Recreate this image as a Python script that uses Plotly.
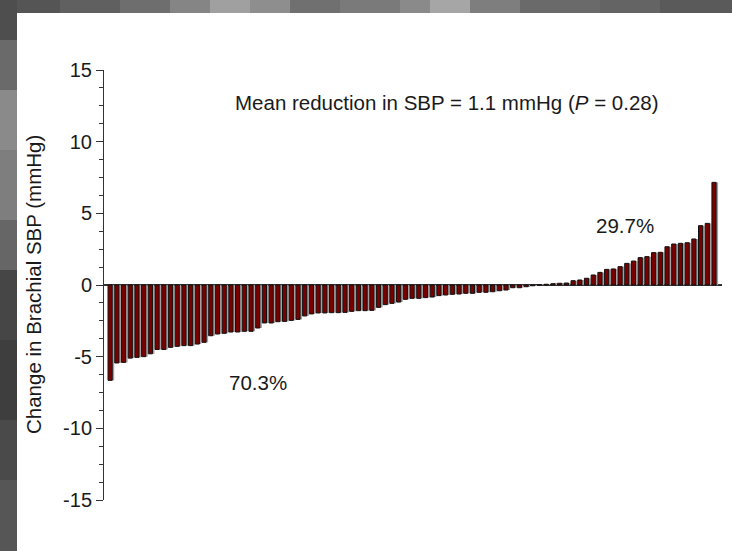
import plotly.graph_objects as go

# ---- data (sorted change in brachial SBP per participant, mmHg) ----
neg_values = [
    -6.65, -5.44, -5.40, -5.10, -5.05, -5.00, -4.80, -4.50, -4.50, -4.35, -4.28, -4.23, -4.23, -4.12, -4.00,
    -3.54, -3.42, -3.37, -3.28, -3.28, -3.23, -3.23, -3.00, -2.65, -2.65, -2.56, -2.54, -2.47, -2.40, -2.16,
    -2.02, -1.95, -1.95, -1.93, -1.93, -1.91, -1.84, -1.79, -1.79, -1.77, -1.56, -1.37, -1.28, -1.19, -1.00,
    -0.93, -0.93, -0.88, -0.84, -0.74, -0.70, -0.65, -0.63, -0.58, -0.58, -0.51, -0.51, -0.47, -0.40, -0.35,
    -0.19, -0.19, -0.12, -0.05,
]
pos_values = [
    0.02, 0.05, 0.09, 0.12, 0.14, 0.30, 0.35, 0.47, 0.70, 0.88, 1.09, 1.12, 1.28, 1.51, 1.67,
    1.91, 1.98, 2.26, 2.28, 2.67, 2.86, 2.91, 2.95, 3.21, 4.14, 4.30, 7.16,
]
values = neg_values + pos_values
participants = list(range(len(values)))

y_tickvals = [15, 10, 5, 0, -5, -10, -15]
y_ticktext = ["15", "10", "5", "0", "-5", "-10", "-15"]

title_text = "Change in Brachial SBP (mmHg)"
mean_text = "Mean reduction in SBP = 1.1 mmHg (<i>P</i> = 0.28)"
neg_pct = "70.3%"
pos_pct = "29.7%"

# ---- layout geometry helpers (pixels -> paper) ----
L, R, T, B = 104, 10, 70, 51
W, H = 732, 551
PW, PH = W - L - R, H - T - B


def px(xp):
    return (xp - L) / PW


def py(yp):
    return (H - B - yp) / PH


FONT = "Arial, 'Liberation Sans', sans-serif"
TXT = 20.5

fig = go.Figure()

# shadow behind bars
fig.add_trace(go.Bar(
    x=participants, y=values, width=0.62, offset=-0.1,
    marker=dict(color="#a0a0a0", line=dict(width=0)),
    hoverinfo="skip", showlegend=False,
))
# main bars
fig.add_trace(go.Bar(
    x=participants, y=values, width=0.62, offset=-0.4,
    marker=dict(color="#7a0000", line=dict(color="#111111", width=1)),
    showlegend=False,
))

shapes = []
# textured grey frame (top and left)
shapes.append(dict(type="rect", xref="paper", yref="paper", x0=px(-5), x1=px(740), y0=py(560), y1=py(-5),
                   fillcolor="#5e5e5e", line=dict(width=0), layer="below"))
top_bands = [(0, 60, "#555555"), (60, 120, "#606060"), (120, 170, "#6e6e6e"), (170, 210, "#858585"),
             (210, 250, "#a0a0a0"), (250, 290, "#8e8e8e"), (290, 340, "#707070"), (340, 400, "#7a7a7a"),
             (400, 430, "#8a8a8a"), (430, 470, "#a6a6a6"), (470, 520, "#7e7e7e"), (520, 600, "#6a6a6a"),
             (600, 660, "#646464"), (660, 740, "#5a5a5a")]
for x0, x1, c in top_bands:
    shapes.append(dict(type="rect", xref="paper", yref="paper", x0=px(x0), x1=px(x1), y0=py(14), y1=py(-5),
                       fillcolor=c, line=dict(width=0), layer="below"))
left_bands = [(-5, 40, "#4e4e4e"), (40, 90, "#6a6a6a"), (90, 150, "#8a8a8a"), (150, 220, "#7e7e7e"),
              (220, 270, "#666666"), (270, 340, "#464646"), (340, 420, "#3e3e3e"), (420, 480, "#4a4a4a"),
              (480, 560, "#565656")]
for y0, y1, c in left_bands:
    shapes.append(dict(type="rect", xref="paper", yref="paper", x0=px(-5), x1=px(17), y0=py(y1), y1=py(y0),
                       fillcolor=c, line=dict(width=0), layer="below"))
# white panel
shapes.append(dict(type="rect", xref="paper", yref="paper", x0=px(17), x1=px(740), y0=py(560), y1=py(13),
                   fillcolor="#ffffff", line=dict(width=0), layer="below"))

fig.update_layout(
    width=W, height=H,
    margin=dict(l=L, r=R, t=T, b=B, pad=0),
    paper_bgcolor="#5e5e5e",
    plot_bgcolor="rgba(0,0,0,0)",
    barmode="overlay",
    shapes=shapes,
    font=dict(family=FONT, color="#1a1a1a", size=TXT),
    xaxis=dict(range=[-1.0, 91.1], visible=False, showgrid=False, zeroline=False),
    yaxis=dict(
        range=[-15, 15], tickvals=y_tickvals, ticktext=y_ticktext,
        ticks="outside", ticklen=7, tickwidth=1, tickcolor="#333333",
        showline=True, linecolor="#333333", linewidth=1,
        showgrid=False, zeroline=True, zerolinecolor="#333333", zerolinewidth=1.5,
        tickfont=dict(family=FONT, size=20, color="#1a1a1a"),
        minor=dict(dtick=1.25, tick0=0, ticks="outside", ticklen=4, tickcolor="#333333", showgrid=False),
    ),
    annotations=[
        dict(text=title_text, xref="paper", yref="paper", x=px(33), y=py(285), textangle=-90,
             showarrow=False, xanchor="center", yanchor="middle", font=dict(size=TXT)),
        dict(text=mean_text, xref="paper", yref="paper", x=px(447), y=py(102),
             showarrow=False, xanchor="center", yanchor="middle", font=dict(size=TXT)),
        dict(text=neg_pct, xref="paper", yref="paper", x=px(258), y=py(382),
             showarrow=False, xanchor="center", yanchor="middle", font=dict(size=TXT)),
        dict(text=pos_pct, xref="paper", yref="paper", x=px(625), y=py(225),
             showarrow=False, xanchor="center", yanchor="middle", font=dict(size=TXT)),
    ],
)

fig.write_html("out.html")
